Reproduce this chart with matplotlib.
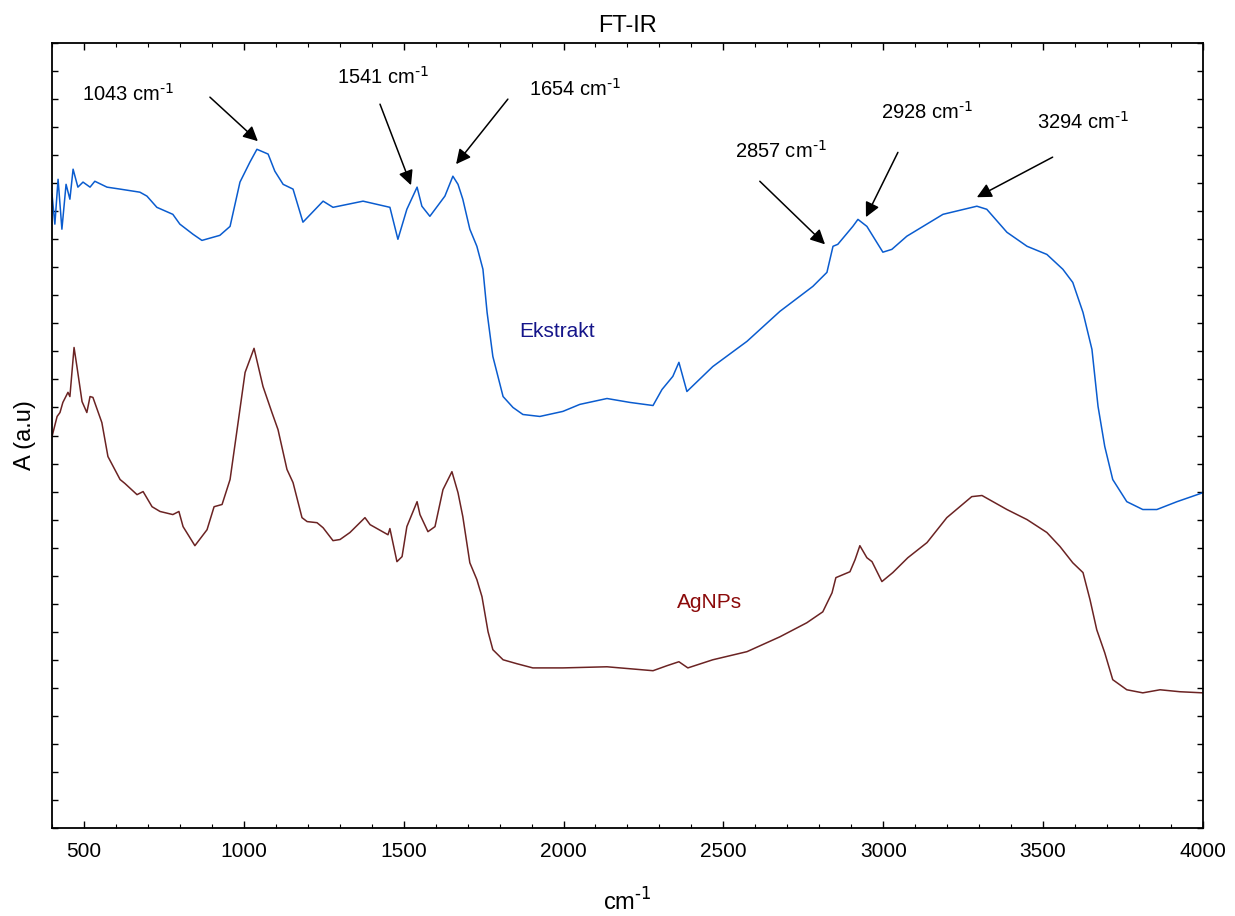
import matplotlib.pyplot as plt
from matplotlib.ticker import MultipleLocator, NullFormatter

plt.rcParams['font.family'] = ['Liberation Sans', 'DejaVu Sans']

# Ekstrakt spectrum (wavenumber, absorbance a.u.)
ek_wn = [400, 409, 419, 431, 444, 456, 466, 481, 497, 519, 534, 572, 613, 675, 697,
         728, 778, 800, 841, 869, 925, 957, 988, 1019, 1041, 1076, 1097, 1123, 1154,
         1185, 1248, 1279, 1373, 1457, 1482, 1510, 1542, 1557, 1582, 1629, 1654, 1670,
         1685, 1707, 1729, 1748, 1761, 1779, 1811, 1842, 1873, 1926, 1998, 2051, 2136,
         2208, 2280, 2308, 2342, 2361, 2386, 2467, 2574, 2677, 2780, 2824, 2843, 2858,
         2905, 2921, 2949, 2968, 2999, 3027, 3074, 3187, 3293, 3324, 3387, 3450, 3512,
         3562, 3593, 3625, 3653, 3672, 3693, 3718, 3762, 3812, 3856, 3919, 4000]
ek_abs = [22.61, 21.54, 23.14, 21.36, 22.96, 22.43, 23.50, 22.86, 23.04, 22.86, 23.07,
          22.86, 22.79, 22.68, 22.54, 22.14, 21.89, 21.54, 21.18, 20.96, 21.14, 21.46,
          23.04, 23.75, 24.21, 24.04, 23.43, 22.96, 22.79, 21.61, 22.36, 22.14, 22.36,
          22.14, 21.00, 22.07, 22.86, 22.18, 21.82, 22.54, 23.25, 22.96, 22.43, 21.36,
          20.75, 19.93, 18.39, 16.82, 15.39, 15.00, 14.75, 14.68, 14.86, 15.11, 15.32,
          15.18, 15.07, 15.64, 16.11, 16.61, 15.57, 16.46, 17.36, 18.43, 19.32, 19.82,
          20.75, 20.82, 21.46, 21.71, 21.46, 21.11, 20.54, 20.64, 21.11, 21.89, 22.18,
          22.07, 21.25, 20.75, 20.46, 19.93, 19.46, 18.39, 17.07, 15.04, 13.61, 12.43,
          11.64, 11.36, 11.36, 11.64, 11.96]

# AgNPs spectrum
ag_wn = [400, 416, 425, 434, 450, 456, 469, 478, 494, 509, 519, 528, 556, 575, 613,
         628, 666, 685, 713, 738, 778, 797, 810, 847, 885, 907, 932, 957, 979, 1004,
         1032, 1060, 1088, 1107, 1135, 1154, 1182, 1198, 1229, 1248, 1279, 1301, 1332,
         1379, 1395, 1451, 1457, 1479, 1495, 1510, 1542, 1551, 1576, 1598, 1623, 1651,
         1670, 1685, 1707, 1729, 1745, 1764, 1779, 1811, 1854, 1904, 1998, 2136, 2208,
         2280, 2324, 2361, 2389, 2467, 2574, 2677, 2761, 2811, 2840, 2852, 2896, 2912,
         2927, 2949, 2965, 2996, 3030, 3077, 3137, 3199, 3277, 3309, 3387, 3450, 3512,
         3553, 3593, 3625, 3647, 3668, 3693, 3718, 3762, 3812, 3866, 3928, 4000]
ag_abs = [13.96, 14.68, 14.82, 15.18, 15.54, 15.39, 17.14, 16.46, 15.21, 14.82, 15.39,
          15.36, 14.46, 13.25, 12.43, 12.29, 11.89, 12.00, 11.46, 11.29, 11.18, 11.29,
          10.75, 10.07, 10.64, 11.46, 11.54, 12.43, 14.21, 16.25, 17.11, 15.75, 14.82,
          14.21, 12.79, 12.32, 11.07, 10.93, 10.89, 10.71, 10.25, 10.29, 10.54, 11.07,
          10.82, 10.46, 10.68, 9.50, 9.68, 10.75, 11.64, 11.18, 10.57, 10.75, 12.07,
          12.71, 11.96, 11.11, 9.46, 8.86, 8.25, 7.00, 6.36, 6.00, 5.86, 5.71, 5.71,
          5.75, 5.68, 5.61, 5.79, 5.93, 5.71, 6.00, 6.29, 6.82, 7.32, 7.71, 8.39, 8.93,
          9.14, 9.57, 10.07, 9.64, 9.50, 8.79, 9.11, 9.64, 10.18, 11.07, 11.82, 11.86,
          11.36, 11.00, 10.54, 10.04, 9.46, 9.11, 8.14, 7.07, 6.25, 5.29, 4.93, 4.82,
          4.93, 4.86, 4.82]

# peak labels: text position, arrow tail, arrow head
peak_labels = ['1043', '1541', '1654', '2857', '2928', '3294']
label_pos = [(638, 26.2), (1435, 26.8), (2036, 26.36), (2680, 24.14), (3137, 25.54), (3625, 25.2)]
arrow_tail = [(894, 26.07), (1426, 25.82), (1826, 26.0), (2614, 23.07), (3046, 24.1), (3530, 23.93)]
arrow_head = [(1044, 24.5), (1523, 22.93), (1664, 23.68), (2818, 20.82), (2946, 21.79), (3293, 22.5)]

fig = plt.figure(figsize=(12.35, 9.16), dpi=100)
ax = fig.add_axes([0.0421, 0.0961, 0.9319, 0.8569])

ax.plot(ek_wn, ek_abs, color='#0a5ccf', lw=1.1)
ax.plot(ag_wn, ag_abs, color='#6b2323', lw=1.1)

ax.text(1980, 17.71, 'Ekstrakt', color='#15158a', fontsize=15, ha='center', va='center')
ax.text(2458, 8.04, 'AgNPs', color='#8b0a0a', fontsize=15, ha='center', va='center')

for lab, pos, tail, head in zip(peak_labels, label_pos, arrow_tail, arrow_head):
    ax.text(pos[0], pos[1], lab + r' cm$^{\text{-}1}$', fontsize=14.5, ha='center', va='center')
    ax.annotate('', xy=head, xytext=tail,
                arrowprops=dict(arrowstyle='-|>', color='k', lw=1.1, mutation_scale=22,
                                shrinkA=0, shrinkB=0))

ax.set_xlim(400, 4000)
ax.set_ylim(0, 28)
ax.xaxis.set_major_locator(MultipleLocator(500))
ax.xaxis.set_minor_locator(MultipleLocator(100))
ax.yaxis.set_major_locator(MultipleLocator(1))
ax.yaxis.set_major_formatter(NullFormatter())
ax.tick_params(which='both', direction='in', top=True, right=True, labelsize=15)
ax.tick_params(which='major', length=5, width=1)
ax.tick_params(axis='y', which='major', length=4)
ax.tick_params(which='minor', length=3, width=0.8)
ax.tick_params(axis='x', pad=10)
for s in ax.spines.values():
    s.set_linewidth(1.3)

ax.set_title('FT-IR', fontsize=17, pad=8)
ax.set_xlabel(r'cm$^{\text{-}1}$', fontsize=17, labelpad=20)
ax.set_ylabel('A (a.u)', fontsize=17, labelpad=8)

fig.savefig('out.png', dpi=100)
